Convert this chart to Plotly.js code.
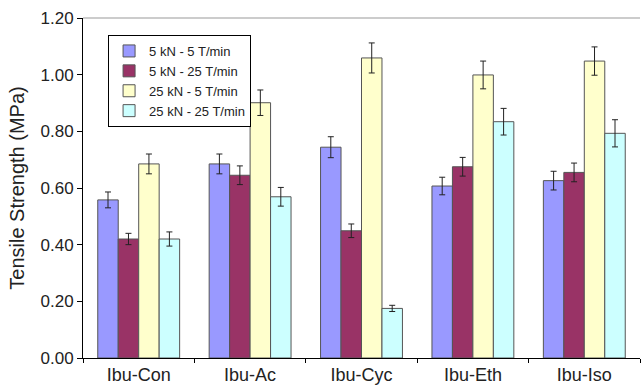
<!DOCTYPE html>
<html>
<head>
<meta charset="utf-8">
<script src="https://cdn.plot.ly/plotly-3.0.1.min.js"></script>
<style>html,body{margin:0;padding:0;background:#fff;}#chart{width:643px;height:387px;}</style>
</head>
<body>
<div id="chart"></div>
<script>
const categories = ["Ibu-Con", "Ibu-Ac", "Ibu-Cyc", "Ibu-Eth", "Ibu-Iso"];
const seriesNames = ["5 kN - 5 T/min", "5 kN - 25 T/min", "25 kN - 5 T/min", "25 kN - 25 T/min"];
const s1 = [0.558, 0.685, 0.744, 0.607, 0.626];
const s2 = [0.420, 0.645, 0.449, 0.675, 0.655];
const s3 = [0.685, 0.901, 1.059, 0.999, 1.048];
const s4 = [0.420, 0.569, 0.175, 0.834, 0.793];
const e1 = [0.028, 0.035, 0.037, 0.031, 0.033];
const e2 = [0.020, 0.033, 0.024, 0.033, 0.033];
const e3 = [0.035, 0.045, 0.053, 0.049, 0.050];
const e4 = [0.025, 0.033, 0.011, 0.047, 0.048];
const colors = ["#9999FF", "#993366", "#FFFFCC", "#CCFFFF"];

const vals = [s1, s2, s3, s4];
const errs = [e1, e2, e3, e4];
const traces = vals.map((v, i) => ({
  type: "bar",
  name: seriesNames[i],
  x: categories,
  y: v,
  marker: { color: colors[i], line: { color: "#555555", width: 1 } },
  error_y: { type: "data", array: errs[i], visible: true, color: "#222222", thickness: 1, width: 3 }
}));

const layout = {
  width: 643, height: 387,
  margin: { l: 83, r: 3, t: 18, b: 29 },
  paper_bgcolor: "#fff", plot_bgcolor: "#fff",
  barmode: "group",
  bargap: 0.265, bargroupgap: 0,
  font: { family: "Liberation Sans, Arial, sans-serif", color: "#222" },
  showlegend: true,
  legend: {
    x: 0.045, y: 0.95, xanchor: "left", yanchor: "top",
    bgcolor: "#fff", bordercolor: "#000", borderwidth: 1,
    font: { size: 13, color: "#222" },
    traceorder: "normal", itemwidth: 30, tracegroupgap: 0
  },
  xaxis: {
    type: "category",
    showline: true, linecolor: "#000", linewidth: 1,
    ticks: "outside", tickson: "boundaries", ticklen: 4, tickcolor: "#000",
    tickfont: { size: 18, color: "#222" },
    showgrid: false, zeroline: false
  },
  yaxis: {
    range: [0, 1.2], tickvals: [0, 0.2, 0.4, 0.6, 0.8, 1.0, 1.2],
    tickformat: ".2f",
    showline: true, linecolor: "#000", linewidth: 1,
    ticks: "outside", ticklen: 5, tickcolor: "#000",
    tickfont: { size: 17, color: "#222" },
    showgrid: false, zeroline: false,
    title: { text: "Tensile Strength (MPa)", font: { size: 20, color: "#222" }, standoff: 10 }
  },
  shapes: [
    { type: "line", xref: "paper", yref: "paper", x0: 0, x1: 1, y0: 1, y1: 1, line: { color: "#999", width: 1 } }
  ]
};

Plotly.newPlot("chart", traces, layout, { displayModeBar: false, staticPlot: true });
</script>
</body>
</html>
